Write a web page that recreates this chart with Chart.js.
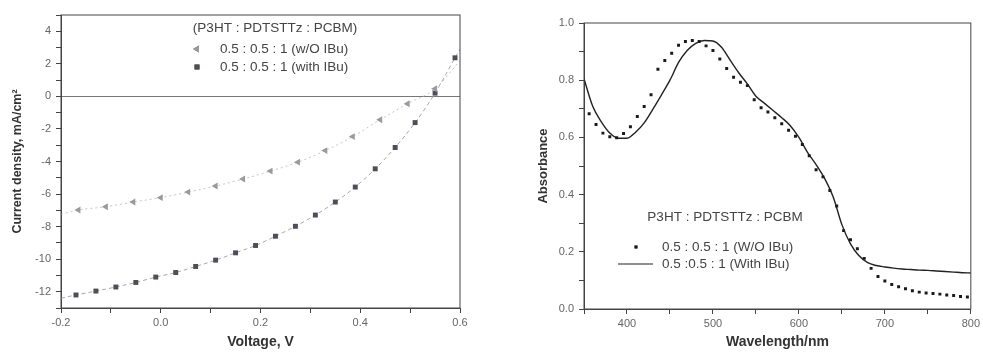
<!DOCTYPE html>
<html>
<head>
<meta charset="utf-8">
<script src="https://cdn.jsdelivr.net/npm/chart.js@4.4.1/dist/chart.umd.min.js"></script>
<style>
  body { margin: 0; background: #fff; }
  #left { position: absolute; left: 0; top: 0; }
  #right { position: absolute; left: 490px; top: 0; }
</style>
</head>
<body>
<canvas id="left" width="490" height="352"></canvas>
<canvas id="right" width="493" height="352"></canvas>
<script>
// ---- J-V curves (left) ----
let voltW = [-0.165, -0.11, -0.055, 0.0, 0.055, 0.11, 0.165, 0.22, 0.275, 0.33, 0.385, 0.44, 0.495, 0.55];
let currW = [-6.98, -6.78, -6.49, -6.22, -5.88, -5.51, -5.08, -4.59, -4.04, -3.33, -2.47, -1.43, -0.45, 0.47];
let voltI = [-0.17, -0.13, -0.09, -0.05, -0.01, 0.03, 0.07, 0.11, 0.15, 0.19, 0.23, 0.27, 0.31, 0.35, 0.39, 0.43, 0.47, 0.51, 0.55, 0.59];
let currI = [-12.2, -11.96, -11.71, -11.43, -11.1, -10.82, -10.45, -10.06, -9.61, -9.16, -8.59, -7.98, -7.29, -6.49, -5.57, -4.45, -3.14, -1.61, 0.2, 2.37];
// fitted curves run edge to edge of the plot
let fitWStart = [-0.2, -7.25], fitWEnd = [0.6, 2.2];
let fitIStart = [-0.2, -12.4], fitIEnd = [0.6, 2.9];

// ---- absorbance (right) ----
let wlW = [356, 364, 372, 380, 388, 396, 404, 412, 420, 428, 436, 444, 452, 460, 468, 476, 484, 492, 500, 508,
  516, 524, 532, 540, 548, 556, 564, 572, 580, 588, 596, 604, 612, 620, 628, 636, 644, 652, 660, 668,
  676, 684, 692, 700, 708, 716, 724, 732, 740, 748, 756, 764, 772, 780, 788, 796];
let absW = [0.683, 0.645, 0.615, 0.602, 0.599, 0.614, 0.637, 0.673, 0.708, 0.749, 0.838, 0.869, 0.894, 0.922, 0.935, 0.939, 0.935, 0.920, 0.904, 0.874,
  0.841, 0.810, 0.793, 0.781, 0.732, 0.704, 0.689, 0.669, 0.648, 0.625, 0.604, 0.575, 0.536, 0.487, 0.462, 0.414, 0.360, 0.274, 0.242, 0.211,
  0.177, 0.142, 0.114, 0.098, 0.086, 0.078, 0.071, 0.064, 0.059, 0.056, 0.054, 0.052, 0.049, 0.047, 0.044, 0.042];
let wlI = [350, 360, 370, 380, 390, 400, 410, 420, 430, 440, 450, 460, 470, 480, 490, 500, 510, 520, 530, 540,
  550, 560, 570, 580, 590, 600, 610, 620, 630, 640, 650, 660, 670, 680, 690, 700, 710, 720, 730, 740,
  750, 760, 770, 780, 790, 800];
let absI = [0.805, 0.71, 0.655, 0.615, 0.597, 0.597, 0.618, 0.651, 0.698, 0.748, 0.800, 0.862, 0.904, 0.929, 0.939, 0.937, 0.915, 0.870, 0.826, 0.787,
  0.744, 0.719, 0.694, 0.669, 0.641, 0.600, 0.548, 0.505, 0.456, 0.391, 0.295, 0.228, 0.186, 0.162, 0.152, 0.147, 0.143, 0.140, 0.138, 0.136,
  0.135, 0.133, 0.131, 0.129, 0.127, 0.126];

const legendTitleL = "(P3HT : PDTSTTz : PCBM)";
const legendTitleR = "P3HT : PDTSTTz : PCBM";

const pts = (xs, ys) => xs.map((x, i) => ({ x: x, y: ys[i] }));
const FONT = "'Liberation Sans', Arial, sans-serif";
const tickFont = { family: FONT, size: 11 };

// frame round the plot area (top & right side too)
const frame = {
  id: 'frame',
  afterDatasetsDraw(chart) {
    const a = chart.chartArea, ctx = chart.ctx;
    ctx.save();
    ctx.strokeStyle = '#444';
    ctx.lineWidth = 1;
    ctx.strokeRect(a.left, a.top, a.right - a.left, a.bottom - a.top);
    ctx.restore();
  }
};

// legend drawn inside the plot
const innerLegend = {
  id: 'innerLegend',
  afterDraw(chart, args, opts) {
    const ctx = chart.ctx;
    ctx.save();
    ctx.font = opts.size + 'px ' + FONT;
    ctx.fillStyle = '#444';
    ctx.textBaseline = 'middle';
    ctx.textAlign = 'center';
    ctx.fillText(opts.title, opts.titleX, opts.titleY);
    ctx.textAlign = 'left';
    opts.items.forEach(it => {
      const ds = chart.data.datasets[it.ds];
      if (it.kind === 'line') {
        ctx.strokeStyle = '#222';
        ctx.lineWidth = 1.2;
        ctx.beginPath();
        ctx.moveTo(it.lx0, it.y);
        ctx.lineTo(it.lx1, it.y);
        ctx.stroke();
      } else {
        Chart.helpers.drawPoint(ctx, {
          pointStyle: ds.pointStyle, radius: ds.pointRadius, rotation: ds.rotation || 0, borderWidth: 0
        }, it.mx, it.y);
        ctx.fillStyle = ds.backgroundColor;
        ctx.fill();
      }
      ctx.fillStyle = '#444';
      ctx.fillText(ds.label, it.tx, it.y);
    });
    ctx.restore();
  }
};

new Chart(document.getElementById('left'), {
  type: 'scatter',
  data: {
    datasets: [
      {
        label: '0.5 : 0.5 : 1 (w/O IBu)',
        data: pts(voltW, currW),
        pointStyle: 'triangle', rotation: -90, pointRadius: 4,
        backgroundColor: '#9a9a9a', borderColor: '#9a9a9a', borderWidth: 0
      },
      {
        label: '0.5 : 0.5 : 1 (with IBu)',
        data: pts(voltI, currI),
        pointStyle: 'rect', pointRadius: 3.5,
        backgroundColor: '#4b5058', borderColor: '#4b5058', borderWidth: 0
      },
      {
        label: 'fitW',
        data: pts([fitWStart[0], ...voltW, fitWEnd[0]], [fitWStart[1], ...currW, fitWEnd[1]]),
        showLine: true, pointRadius: 0, borderColor: '#c4c4c4', borderWidth: 1,
        borderDash: [2, 3], cubicInterpolationMode: 'monotone'
      },
      {
        label: 'fitI',
        data: pts([fitIStart[0], ...voltI, fitIEnd[0]], [fitIStart[1], ...currI, fitIEnd[1]]),
        showLine: true, pointRadius: 0, borderColor: '#a8a8a8', borderWidth: 1,
        borderDash: [4, 3], cubicInterpolationMode: 'monotone'
      }
    ]
  },
  options: {
    responsive: false,
    animation: false,
    layout: { padding: { top: 15, right: 30, left: 0, bottom: 0 } },
    plugins: {
      legend: { display: false },
      tooltip: { enabled: false },
      innerLegend: {
        size: 13.5, title: legendTitleL, titleX: 275, titleY: 28,
        items: [
          { ds: 0, mx: 197, tx: 220, y: 49 },
          { ds: 1, mx: 197, tx: 220, y: 67 }
        ]
      }
    },
    scales: {
      x: {
        type: 'linear', min: -0.2, max: 0.6,
        afterFit(s) { s.height = 44; },
        ticks: {
          stepSize: 0.1, color: '#666', font: tickFont, padding: 3, maxRotation: 0,
          callback: v => Math.round(v * 10) % 2 === 0 ? v.toFixed(1) : ''
        },
        grid: { drawOnChartArea: false, tickLength: 5, tickColor: '#444' },
        border: { color: '#444' },
        title: {
          display: true, text: 'Voltage, V', color: '#333',
          font: { family: FONT, size: 14, weight: 'bold' }, padding: { top: 0, bottom: 1 }
        }
      },
      y: {
        min: -13, max: 5,
        afterFit(s) { s.width = 61; },
        ticks: {
          stepSize: 1, color: '#666', font: tickFont, padding: 5,
          callback: v => v % 2 === 0 ? String(v) : ''
        },
        grid: {
          color: c => c.tick && c.tick.value === 0 ? '#777' : 'rgba(0,0,0,0)',
          tickLength: 5, tickColor: '#444'
        },
        border: { color: '#444' },
        title: {
          display: true, text: 'Current density, mA/cm²', color: '#333',
          font: { family: FONT, size: 12.5, weight: 'bold' }, padding: { top: 10, bottom: 0 }
        }
      }
    }
  },
  plugins: [frame, innerLegend]
});

new Chart(document.getElementById('right'), {
  type: 'scatter',
  data: {
    datasets: [
      {
        label: '0.5 : 0.5 : 1 (W/O IBu)',
        data: pts(wlW, absW),
        pointStyle: 'rect', pointRadius: 2.1,
        backgroundColor: '#1a1a1a', borderColor: '#1a1a1a', borderWidth: 0
      },
      {
        label: '0.5 :0.5 : 1 (With IBu)',
        data: pts(wlI, absI),
        showLine: true, pointRadius: 0, borderColor: '#222', borderWidth: 1.4,
        cubicInterpolationMode: 'monotone'
      }
    ]
  },
  options: {
    responsive: false,
    animation: false,
    layout: { padding: { top: 23, right: 9, left: 0, bottom: 0 } },
    plugins: {
      legend: { display: false },
      tooltip: { enabled: false },
      innerLegend: {
        size: 13.5, title: legendTitleR, titleX: 235, titleY: 217,
        items: [
          { ds: 0, mx: 146, tx: 172, y: 247 },
          { ds: 1, kind: 'line', lx0: 128, lx1: 163, tx: 172, y: 264 }
        ]
      }
    },
    scales: {
      x: {
        type: 'linear', min: 350, max: 800,
        afterFit(s) { s.height = 43; },
        ticks: {
          stepSize: 50, color: '#666', font: tickFont, padding: 3, maxRotation: 0,
          callback: v => v % 100 === 0 ? String(v) : ''
        },
        grid: { drawOnChartArea: false, tickLength: 5, tickColor: '#444' },
        border: { color: '#444' },
        title: {
          display: true, text: 'Wavelength/nm', color: '#333',
          font: { family: FONT, size: 14, weight: 'bold' }, padding: { top: 0, bottom: 1 }
        }
      },
      y: {
        min: 0, max: 1,
        afterFit(s) { s.width = 94; },
        ticks: {
          stepSize: 0.1, color: '#666', font: tickFont, padding: 5,
          callback: v => Math.round(v * 10) % 2 === 0 ? v.toFixed(1) : ''
        },
        grid: { drawOnChartArea: false, tickLength: 5, tickColor: '#444' },
        border: { color: '#444' },
        title: {
          display: true, text: 'Absorbance', color: '#333',
          font: { family: FONT, size: 13, weight: 'bold' }, padding: { top: 46, bottom: 0 }
        }
      }
    }
  },
  plugins: [frame, innerLegend]
});
</script>
</body>
</html>
